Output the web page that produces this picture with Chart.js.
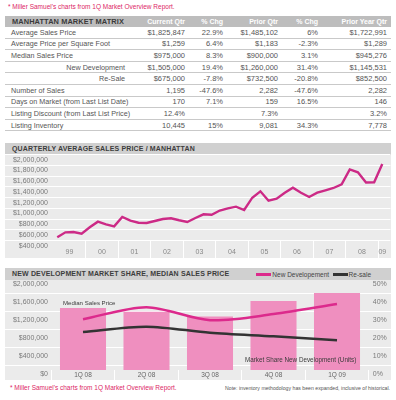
<!DOCTYPE html>
<html>
<head>
<meta charset="utf-8">
<script src="https://cdn.jsdelivr.net/npm/chart.js@4.4.1/dist/chart.umd.min.js"></script>
<style>
  body { margin: 0; width: 396px; height: 400px; position: relative; overflow: hidden; background: #fff;
         font-family: 'Liberation Sans', Arial, sans-serif; }
  .abs { position: absolute; white-space: nowrap; }
  .pink-note { color: #dc1f66; font-size: 6.5px; line-height: 7.5px; }
  .titlebar { background: #d0d0d0; color: #3d3d3d; font-weight: bold; font-size: 7px; letter-spacing: .15px;
              left: 5px; width: 386px; box-sizing: border-box; padding-left: 7px; }
  .plotbg { background: #ebebeb; left: 5px; width: 386px; }
  canvas { position: absolute; left: 0; }
  #matrix { left: 5px; top: 16px; width: 386px; }
  .mrow { display: flex; height: 11.6px; box-sizing: border-box; border-bottom: 1px solid #c9c9c9; align-items: center;
          color: #555; font-size: 7.5px; }
  .mrow.head { height: 11px; border: 0; background: #bdbdbd; color: #fff; font-weight: bold; font-size: 7px; }
  .mrow span { display: block; box-sizing: border-box; text-align: right; padding-right: 4px; overflow: visible; white-space: nowrap; }
  .mrow span.lbl { text-align: left; padding-left: 6px; font-size: 7.2px; }
  .mrow span.lbl.sub { text-align: right; padding-right: 15px; }
  .mrow.head span.lbl { color: #3a3a3a; padding-left: 7px; font-size: 7.4px; letter-spacing: .1px; }
  #legend2 { right: 25px; top: 268px; height: 12px; display: flex; align-items: center; font-size: 6.5px; color: #444; }
  #legend2 .item { display: flex; align-items: center; margin-left: 3.5px; }
  #legend2 .sw { width: 15px; height: 3px; margin-right: 1px; }
  .annot { color: #3a3a3a; z-index: 3; }
</style>
</head>
<body>
<div class="abs pink-note" style="left:8px; top:3px;">* Miller Samuel's charts from 1Q Market Overview Report.</div>
<div class="abs" id="matrix"></div>

<div class="abs titlebar" style="top:143px; height:12px; line-height:12px;">QUARTERLY AVERAGE SALES PRICE / MANHATTAN</div>
<div class="abs plotbg" style="top:155px; height:103px;"></div>
<canvas id="priceChart" width="396" height="112" style="top:150px;"></canvas>

<div class="abs titlebar" style="top:268px; height:12px; line-height:12px;">NEW DEVELOPMENT MARKET SHARE, MEDIAN SALES PRICE</div>
<div class="abs" id="legend2"></div>
<div class="abs plotbg" style="top:280px; height:100px;"></div>
<canvas id="devChart" width="396" height="112" style="top:272px;"></canvas>
<div class="abs annot" style="left:63px; top:299px; font-size:6.1px; line-height:7px;">Median Sales Price</div>
<div class="abs annot" style="left:245px; top:356px; font-size:6.3px; line-height:7px;">Market Share New Development (Units)</div>

<div class="abs pink-note" style="left:10px; top:384px;">* Miller Samuel's charts from 1Q Market Overview Report.</div>
<div class="abs" style="right:6px; top:385px; font-size:5.2px; line-height:6px; color:#555;">Note: inventory methodology has been expanded, inclusive of historical.</div>

<script>
// --- market matrix table
const matrixColumns = ['MANHATTAN MARKET MATRIX', 'Current Qtr', '% Chg', 'Prior Qtr', '% Chg', 'Prior Year Qtr'];
const matrixRows = [
    ['Average Sales Price', '$1,825,847', '22.9%', '$1,485,102', '6%', '$1,722,991'],
    ['Average Price per Square Foot', '$1,259', '6.4%', '$1,183', '-2.3%', '$1,289'],
    ['Median Sales Price', '$975,000', '8.3%', '$900,000', '3.1%', '$945,276'],
    ['New Development', '$1,505,000', '19.4%', '$1,260,000', '31.4%', '$1,145,531'],
    ['Re-Sale', '$675,000', '-7.8%', '$732,500', '-20.8%', '$852,500'],
    ['Number of Sales', '1,195', '-47.6%', '2,282', '-47.6%', '2,282'],
    ['Days on Market (from Last List Date)', '170', '7.1%', '159', '16.5%', '146'],
    ['Listing Discount (from Last List Price)', '12.4%', '', '7.3%', '', '3.2%'],
    ['Listing Inventory', '10,445', '15%', '9,081', '34.3%', '7,778']
];
const subRows = ['New Development', 'Re-Sale'];

// --- quarterly average sales price
const quarters = ['1Q99','2Q99','3Q99','4Q99','1Q00','2Q00','3Q00','4Q00','1Q01','2Q01','3Q01','4Q01',
    '1Q02','2Q02','3Q02','4Q02','1Q03','2Q03','3Q03','4Q03','1Q04','2Q04','3Q04','4Q04',
    '1Q05','2Q05','3Q05','4Q05','1Q06','2Q06','3Q06','4Q06','1Q07','2Q07','3Q07','4Q07',
    '1Q08','2Q08','3Q08','4Q08','1Q09'];
const avgPrice = [461000, 554000, 560000, 528000, 647000, 752000, 703000, 666000, 839000, 770000, 733000, 727000,
    765000, 802000, 815000, 778000, 746000, 820000, 889000, 882000, 960000, 1001000, 1031000, 969000,
    1198000, 1317000, 1142000, 1180000, 1291000, 1384000, 1291000, 1211000, 1291000, 1336000, 1379000, 1447000,
    1722991, 1671000, 1480000, 1485102, 1825847];
const yearLabels = ['99', '00', '01', '02', '03', '04', '05', '06', '07', '08', '09'];

// --- new development share / median price
const devQuarters = ['1Q 08', '2Q 08', '3Q 08', '4Q 08', '1Q 09'];
const newDevShare = [34.5, 32.4, 29.8, 38.4, 42.9];
const newDevMedian = [1130000, 1400000, 1110000, 1245000, 1470000];
const resaleMedian = [845000, 965000, 830000, 750000, 665000];

const pink = '#cc2a86';
const font = { family: "'Liberation Sans', Arial, sans-serif", size: 7 };
const dollars = v => '$' + Number(v).toLocaleString('en-US');

// build table
const widths = [135, 49, 38, 55, 40, 69];
const matrix = document.getElementById('matrix');
[matrixColumns].concat(matrixRows).forEach((row, r) => {
    const div = document.createElement('div');
    div.className = 'mrow' + (r === 0 ? ' head' : '');
    row.forEach((text, c) => {
        const cell = document.createElement('span');
        cell.style.width = widths[c] + 'px';
        if (c === 0) cell.className = 'lbl' + (subRows.includes(text) ? ' sub' : '');
        cell.textContent = text;
        div.appendChild(cell);
    });
    matrix.appendChild(div);
});

// chart 1
new Chart(document.getElementById('priceChart'), {
    type: 'line',
    data: {
        datasets: [{
            label: 'Average Sales Price',
            data: avgPrice.map((v, i) => ({ x: i, y: v })),
            borderColor: pink,
            borderWidth: 2.4,
            pointRadius: 0,
            tension: 0
        }]
    },
    options: {
        responsive: false,
        animation: false,
        devicePixelRatio: 1,
        layout: { padding: { left: 0, right: 5.6, top: 4.6, bottom: 4 } },
        plugins: { legend: { display: false }, tooltip: { enabled: false } },
        scales: {
            x: {
                type: 'linear', bounds: 'data', min: -0.5, max: 41,
                afterBuildTicks: scale => {
                    const ticks = [];
                    yearLabels.forEach(year => {
                        const first = quarters.indexOf('1Q' + year);
                        const last = Math.min(first + 3, quarters.length - 1);
                        ticks.push({ value: (first + last) / 2, year: year });
                        if (last < quarters.length - 1) ticks.push({ value: last + 0.5, sep: true });
                    });
                    scale.ticks = ticks.sort((a, b) => a.value - b.value);
                },
                afterFit: scale => { scale.height = 17.4; },
                ticks: {
                    autoSkip: false, maxRotation: 0, padding: -10.2, color: '#888', font: font,
                    callback: (value, index, ticks) => ticks[index].year || ''
                },
                grid: {
                    drawOnChartArea: false, drawTicks: true, tickLength: 17.4,
                    tickColor: ctx => (ctx.tick && ctx.tick.sep) ? '#ffffff' : 'rgba(0,0,0,0)'
                },
                border: { display: false }
            },
            y: {
                min: 400000, max: 2000000,
                afterFit: scale => { scale.width = 53.2; },
                ticks: { stepSize: 200000, autoSkip: false, labelOffset: 5, padding: -43, color: '#7a7a7a', font: font, callback: dollars },
                grid: { color: '#ffffff', tickColor: '#ffffff', drawTicks: true, tickLength: 48.2 },
                border: { display: false }
            }
        }
    }
});

// chart 2
const htmlLegend = {
    id: 'htmlLegend',
    afterUpdate(chart) {
        const box = document.getElementById('legend2');
        box.innerHTML = '';
        chart.options.plugins.legend.labels.generateLabels(chart)
            .filter(item => chart.data.datasets[item.datasetIndex].type === 'line')
            .forEach(item => {
                const el = document.createElement('div');
                el.className = 'item';
                const sw = document.createElement('span');
                sw.className = 'sw';
                sw.style.background = item.strokeStyle;
                el.appendChild(sw);
                el.appendChild(document.createTextNode(item.text));
                box.appendChild(el);
            });
    }
};

const bandAxis = (position, tickLength) => ({
    type: 'linear', position: position, weight: 0, min: 0, max: 2000000,
    afterBuildTicks: scale => {
        // separators sit between the label rows
        const ticks = [];
        for (let v = 100000; v < 2000000; v += 400000) ticks.push({ value: v });
        scale.ticks = ticks;
    },
    afterFit: scale => { scale.width = 0; },
    ticks: { display: false },
    grid: { color: '#ffffff', tickColor: '#ffffff', drawTicks: true, tickLength: tickLength },
    border: { display: false }
});

new Chart(document.getElementById('devChart'), {
    type: 'bar',
    data: {
        labels: devQuarters,
        datasets: [{
            label: 'Market Share New Development (Units)',
            data: newDevShare,
            yAxisID: 'y2',
            backgroundColor: '#ef8fbf',
            barPercentage: 0.725,
            categoryPercentage: 1,
            order: 3
        }, {
            type: 'line',
            label: 'New Developement',
            data: newDevMedian,
            yAxisID: 'y',
            borderColor: '#dc2a8c',
            backgroundColor: '#dc2a8c',
            borderWidth: 2.5,
            pointRadius: 0,
            tension: 0.3,
            order: 1
        }, {
            type: 'line',
            label: 'Re-sale',
            data: resaleMedian,
            yAxisID: 'y',
            borderColor: '#333333',
            backgroundColor: '#333333',
            borderWidth: 2.5,
            pointRadius: 0,
            tension: 0.3,
            order: 2
        }]
    },
    options: {
        responsive: false,
        animation: false,
        devicePixelRatio: 1,
        layout: { padding: { left: 0, right: 0, top: 8, bottom: 2 } },
        plugins: { legend: { display: false }, tooltip: { enabled: false } },
        scales: {
            x: {
                afterFit: scale => { scale.height = 12; },
                ticks: { padding: -8.9, color: '#666', font: { family: font.family, size: 6.5 } },
                grid: { offset: true, drawOnChartArea: false, drawTicks: true, tickLength: 10, tickColor: '#ffffff' },
                border: { display: false }
            },
            y: {
                position: 'left', weight: 1, min: 0, max: 2000000,
                afterFit: scale => { scale.width = 51.25; },
                ticks: { stepSize: 400000, autoSkip: false, labelOffset: 4, padding: 3.25, color: '#7a7a7a', font: font, callback: dollars },
                grid: { display: false, drawTicks: false },
                border: { display: false }
            },
            yBand: bandAxis('left', 46.25),
            y2: {
                position: 'right', weight: 1, min: 0, max: 50,
                afterFit: scale => { scale.width = 27.25; },
                ticks: { stepSize: 10, autoSkip: false, labelOffset: 4, padding: 4, color: '#7a7a7a', font: font, callback: v => v + '%' },
                grid: { display: false, drawTicks: false },
                border: { display: false }
            },
            yBand2: bandAxis('right', 22.25)
        }
    },
    plugins: [htmlLegend]
});
</script>
</body>
</html>
